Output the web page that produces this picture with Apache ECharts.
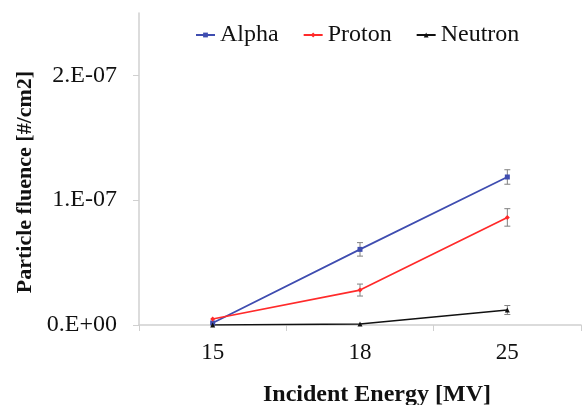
<!DOCTYPE html>
<html><head><meta charset="utf-8">
<script src="https://cdn.jsdelivr.net/npm/echarts@6/dist/echarts.min.js"></script>
<style>html,body{margin:0;padding:0;background:#fff}#c{width:582px;height:405px}</style>
</head><body><div id="c"></div>
<script>
const categories = ['15', '18', '25'];
const alpha = [0.016e-7, 0.606e-7, 1.186e-7];
const alphaErr = [0, 0.054e-7, 0.058e-7];
const proton = [0.048e-7, 0.28e-7, 0.862e-7];
const protonErr = [0, 0.048e-7, 0.07e-7];
const neutron = [0.0, 0.008e-7, 0.12e-7];
const neutronErr = [0, 0, 0.036e-7];
const yTicks = [0, 1e-7, 2e-7];
const yTickLabels = ['0.E+00', '1.E-07', '2.E-07'];

const FONT = '"Liberation Serif", "Times New Roman", serif';
const chart = echarts.init(document.getElementById('c'));

function errData(vals, errs) {
  return vals.map((v, i) => [i, v - errs[i], v + errs[i]]).filter((d, i) => errs[i] > 0);
}
function errSeries(vals, errs) {
  return {
    type: 'custom', silent: true, z: 1,
    renderItem: function (params, api) {
      const x = api.value(0);
      const lo = api.coord([x, api.value(1)]);
      const hi = api.coord([x, api.value(2)]);
      const w = 3;
      const st = { stroke: '#808080', lineWidth: 1 };
      return { type: 'group', children: [
        { type: 'line', shape: { x1: lo[0], y1: lo[1], x2: hi[0], y2: hi[1] }, style: st },
        { type: 'line', shape: { x1: lo[0] - w, y1: lo[1], x2: lo[0] + w, y2: lo[1] }, style: st },
        { type: 'line', shape: { x1: hi[0] - w, y1: hi[1], x2: hi[0] + w, y2: hi[1] }, style: st }
      ]};
    },
    data: errData(vals, errs)
  };
}
function lineSeries(name, data, color, symbol) {
  return { name: name, type: 'line', data: data, symbol: symbol, symbolSize: 5,
    lineStyle: { color: color, width: 1.7 }, itemStyle: { color: color }, z: 3 };
}

chart.setOption({
  animation: false,
  textStyle: { fontFamily: FONT },
  grid: { left: 139, right: 1, top: 13, bottom: 80 },
  legend: {
    left: 195, top: 23, padding: 0, itemWidth: 19, itemHeight: 6, itemGap: 24,
    textStyle: { fontFamily: FONT, fontSize: 24, color: '#111' },
    data: ['Alpha', 'Proton', 'Neutron']
  },
  xAxis: {
    type: 'category', data: categories, boundaryGap: true,
    axisLine: { lineStyle: { color: '#d0d0d0', width: 1.5 } },
    axisTick: { show: true, length: 6, lineStyle: { color: '#d0d0d0' } },
    axisLabel: { fontFamily: FONT, fontSize: 23, color: '#111', margin: 16 },
    splitLine: { show: false }
  },
  yAxis: {
    type: 'value', min: 0, max: 2.5e-7,
    axisLine: { show: true, lineStyle: { color: '#d0d0d0', width: 1.5 } },
    axisTick: { show: true, length: 6, lineStyle: { color: '#d0d0d0' }, customValues: yTicks },
    axisLabel: { fontFamily: FONT, fontSize: 24, color: '#111', margin: 22, customValues: yTicks,
      formatter: function (v) { const i = yTicks.findIndex(t => Math.abs(t - v) < 1e-12); return i >= 0 ? yTickLabels[i] : ''; } },
    splitLine: { show: false }
  },
  graphic: [
    { type: 'text', x: 377, y: 395, style: { text: 'Incident Energy [MV]', align: 'center', verticalAlign: 'middle',
      font: 'bold 24px ' + FONT, fill: '#111' } },
    { type: 'text', x: 25, y: 182, rotation: Math.PI / 2, style: { text: 'Particle fluence [#/cm2]', align: 'center', verticalAlign: 'middle',
      font: 'bold 22px ' + FONT, fill: '#111' } }
  ],
  series: [
    errSeries(alpha, alphaErr),
    errSeries(proton, protonErr),
    errSeries(neutron, neutronErr),
    lineSeries('Alpha', alpha, '#3f4db0', 'rect'),
    lineSeries('Proton', proton, '#ff2a2a', 'diamond'),
    lineSeries('Neutron', neutron, '#111111', 'triangle')
  ]
});
</script></body></html>
